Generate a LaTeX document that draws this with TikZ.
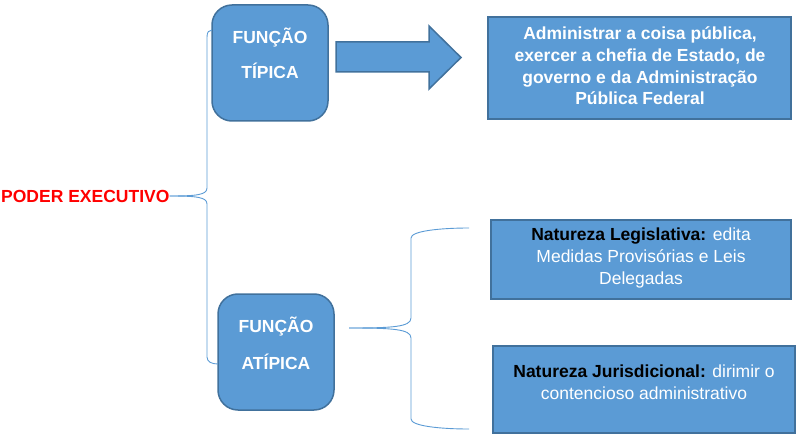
\documentclass[tikz,border=0pt]{standalone}
\usepackage{fontspec}
\setmainfont{Liberation Sans}
\definecolor{fillb}{HTML}{5B9BD5}
\definecolor{edgeb}{HTML}{41719C}
\definecolor{lineb}{HTML}{5B9BD5}
\definecolor{pered}{HTML}{FF0000}
\begin{document}
\begin{tikzpicture}[x=1pt,y=-1pt,
  rbox/.style={draw=edgeb, fill=fillb, line width=1.5pt, rounded corners=20pt, minimum width=116pt, minimum height=116pt, inner sep=0pt},
  sbox/.style={draw=edgeb, fill=fillb, line width=1.5pt, inner sep=0pt},
  wt/.style={text=white, font=\fontsize{17.5}{21.7}\selectfont\bfseries, align=center, inner sep=0pt},
  wr/.style={text=white, font=\fontsize{17.5}{21.7}\selectfont, align=center, inner sep=0pt},
  brace/.style={draw=lineb, line width=0.9pt},
  bigarrow/.style={draw=edgeb, fill=fillb, line width=1.5pt}]
\useasboundingbox (0,0) rectangle (796,444);

% boxes
\node[rbox] (tip) at (270,63) {};
\node[wt, anchor=base] (tipa) at (270,44) {FUNÇÃO};
\node[wt, anchor=base] (tipb) at (270,79) {TÍPICA};

\node[rbox] (atip) at (276,352) {};
\node[wt, anchor=base] (atipa) at (276,332) {FUNÇÃO};
\node[wt, anchor=base] (atipb) at (276,369) {ATÍPICA};

\node[sbox, minimum width=303pt, minimum height=102pt] (adm) at (639.5,68) {};
\node[wt] (admt) at (640,66) {Administrar a coisa pública,\\exercer a chefia de Estado, de\\governo e da Administração\\Pública Federal};

\node[sbox, minimum width=300pt, minimum height=79pt] (leg) at (641,259.5) {};
\node[wr] (legt) at (641,258) {\textcolor{black}{\bfseries Natureza Legislativa:} edita\\Medidas Provisórias e Leis\\Delegadas};

\node[sbox, minimum width=302pt, minimum height=87pt] (jur) at (644,389.5) {};
\node[wr] (jurt) at (644,382) {\textcolor{black}{\bfseries Natureza Jurisdicional:} dirimir o\\contencioso administrativo};

% root
\node[anchor=west, inner sep=0pt, text=pered, font=\fontsize{17.5}{21.7}\selectfont\bfseries] (pe) at (1,196) {PODER EXECUTIVO};

% big arrow
\draw[bigarrow] (336,42) -- (429,42) -- (429,26) -- (461,57.5) -- (429,89) -- (429,72) -- (336,72) -- cycle;

% brace 1
\coordinate (b1top) at (212,30);
\coordinate (b1bot) at (218,364);
\draw[brace] (pe.east) .. controls (196,196) and (207,195) .. (207,188) -- (207,37) .. controls (207,32) and (209,30) .. (b1top);
\draw[brace] (pe.east) .. controls (196,196) and (207,197) .. (207,204) -- (207,357) .. controls (207,362) and (212,364) .. (b1bot);

% brace 2
\coordinate (b2mid) at (349,328);
\coordinate (b2top) at (469,228);
\coordinate (b2bot) at (469,429);
\draw[brace] (b2mid) .. controls (392,328) and (411,327) .. (411,318) -- (411,238) .. controls (411,231) and (440,228) .. (b2top);
\draw[brace] (b2mid) .. controls (392,328) and (411,329) .. (411,338) -- (411,419) .. controls (411,426) and (440,429) .. (b2bot);
\end{tikzpicture}
\end{document}
